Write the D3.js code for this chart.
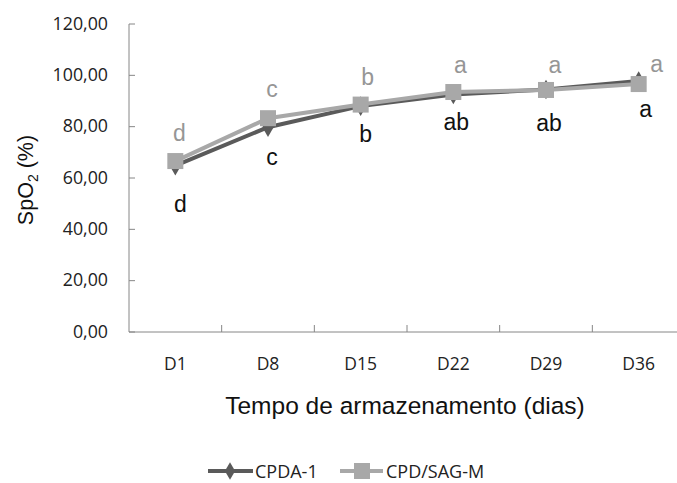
<!DOCTYPE html>
<html><head><meta charset="utf-8">
<script src="https://cdn.jsdelivr.net/npm/d3@7"></script>
<style>body{margin:0;background:#fff}</style>
</head><body>
<svg id="c" width="677" height="483"></svg>
<script>
const categories = ["D1","D8","D15","D22","D29","D36"];
const cpda1 = [64.8, 79.8, 88.0, 92.5, 94.5, 97.8];
const cpdsag = [66.6, 83.3, 88.6, 93.5, 94.3, 96.6];
const lettersCPDA = ["d","c","b","ab","ab","a"];
const lettersSAG = ["d","c","b","a","a","a"];
const yTicks = [0,20,40,60,80,100,120];

const svg = d3.select("#c");
const x = d3.scaleBand().domain(categories).range([129,685]);
const y = d3.scaleLinear().domain([0,120]).range([332,24]);
const tickFont = "'Open Sans', sans-serif";
const axisCol = "#868686";

// y axis
svg.append("line").attr("x1",129).attr("x2",129).attr("y1",y(120)).attr("y2",y(0)).attr("stroke",axisCol);
yTicks.forEach(t=>{
  svg.append("line").attr("x1",129).attr("x2",135).attr("y1",y(t)).attr("y2",y(t)).attr("stroke",axisCol);
  svg.append("text").attr("x",108).attr("y",y(t)+5.5).attr("text-anchor","end")
    .attr("font-family",tickFont).attr("font-size",17.8).attr("fill","#222")
    .text(t.toFixed(2).replace(".",","));
});
// x axis
svg.append("line").attr("x1",129).attr("x2",685).attr("y1",y(0)).attr("y2",y(0)).attr("stroke",axisCol);
categories.forEach((c,i)=>{
  const xx = x(c)+x.bandwidth();
  svg.append("line").attr("x1",xx).attr("x2",xx).attr("y1",y(0)-7).attr("y2",y(0)).attr("stroke",axisCol);
  svg.append("text").attr("x",x(c)+x.bandwidth()/2).attr("y",370).attr("text-anchor","middle")
    .attr("font-family",tickFont).attr("font-size",17.5).attr("fill","#222").text(c);
});
const cx = c => x(c)+x.bandwidth()/2;

// lines
const line = d3.line().x((d,i)=>cx(categories[i])).y(d=>y(d));
const dark = "#5a5a5a", light = "#a8a8a8";
svg.append("path").datum(cpda1).attr("d",line).attr("fill","none").attr("stroke",dark).attr("stroke-width",4);
svg.append("path").datum(cpdsag).attr("d",line).attr("fill","none").attr("stroke",light).attr("stroke-width",4);
cpda1.forEach((v,i)=>{
  svg.append("path").attr("d",d3.symbol(d3.symbolDiamond,110)()).attr("transform",`translate(${cx(categories[i])},${y(v)})`).attr("fill",dark);
});
cpdsag.forEach((v,i)=>{
  svg.append("rect").attr("x",cx(categories[i])-8).attr("y",y(v)-8).attr("width",16).attr("height",16).attr("fill",light);
});

// letters
const lf = "'Liberation Sans', Arial, sans-serif";
const sagY = [141, 97, 85, 73, 73, 72];
const sagDx = [4, 4, 7, 7, 9, 18];
const cpdaY = [212, 165, 142, 130, 131, 117];
const cpdaDx = [5, 4, 5, 3, 3, 7];
lettersSAG.forEach((l,i)=>{
  svg.append("text").attr("x",cx(categories[i])+sagDx[i]).attr("y",sagY[i]).attr("text-anchor","middle")
    .attr("font-family",lf).attr("font-size",23).attr("fill","#969696").text(l);
});
lettersCPDA.forEach((l,i)=>{
  svg.append("text").attr("x",cx(categories[i])+cpdaDx[i]).attr("y",cpdaY[i]).attr("text-anchor","middle")
    .attr("font-family",lf).attr("font-size",23).attr("fill","#111").text(l);
});

// axis titles
svg.append("text").attr("x",405).attr("y",414).attr("text-anchor","middle")
  .attr("font-family",lf).attr("font-size",24.5).attr("fill","#111").text("Tempo de armazenamento (dias)");
const yt = svg.append("text").attr("transform","translate(33,180) rotate(-90)").attr("text-anchor","middle")
  .attr("font-family",lf).attr("font-size",21.5).attr("fill","#111");
yt.append("tspan").text("SpO");
yt.append("tspan").attr("font-size",14).attr("dy",5).text("2");
yt.append("tspan").attr("dy",-5).text(" (%)");

// legend
const ly = 471;
svg.append("line").attr("x1",208).attr("x2",253).attr("y1",ly).attr("y2",ly).attr("stroke",dark).attr("stroke-width",4);
svg.append("path").attr("d",d3.symbol(d3.symbolDiamond,90)()).attr("transform",`translate(230,${ly})`).attr("fill",dark);
svg.append("text").attr("x",255).attr("y",ly+6.5).attr("font-family",tickFont).attr("font-size",18).attr("fill","#222").text("CPDA-1");
svg.append("line").attr("x1",340).attr("x2",383).attr("y1",ly).attr("y2",ly).attr("stroke",light).attr("stroke-width",4);
svg.append("rect").attr("x",354).attr("y",ly-8).attr("width",16).attr("height",16).attr("fill",light);
svg.append("text").attr("x",386).attr("y",ly+6.5).attr("font-family",tickFont).attr("font-size",18).attr("fill","#222").text("CPD/SAG-M");
</script>
</body></html>
